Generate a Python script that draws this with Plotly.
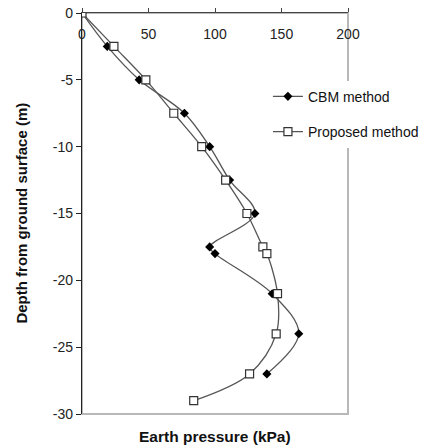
import plotly.graph_objects as go

cbm_depth = [0, -2.5, -5, -7.5, -10, -12.5, -15, -17.5, -18, -21, -24, -27]
cbm_pressure = [0, 19, 43, 77, 96, 111, 130, 96, 100, 143, 163, 139]

prop_depth = [0, -2.5, -5, -7.5, -10, -12.5, -15, -17.5, -18, -21, -24, -27, -29]
prop_pressure = [0, 24, 48, 69, 90, 108, 124, 136, 139, 147, 146, 126, 84]

x_ticks = [0, 50, 100, 150, 200]
y_ticks = [0, -5, -10, -15, -20, -25, -30]
y_tick_labels = ["0", "-5", "-10", "-15", "-20", "-25", "-30"]

FONT = "Liberation Sans, Arial, sans-serif"

fig = go.Figure()
fig.add_trace(go.Scatter(
    x=cbm_pressure, y=cbm_depth, name="CBM method", legendgroup="a",
    mode="lines+markers", line=dict(color="#555555", width=1.3, shape="spline", smoothing=1),
    marker=dict(symbol="diamond", size=7, color="black", line=dict(width=0)),
))
fig.add_trace(go.Scatter(
    x=prop_pressure, y=prop_depth, name="Proposed method", legendgroup="b",
    mode="lines+markers", line=dict(color="#555555", width=1.3, shape="spline", smoothing=1),
    marker=dict(symbol="square", size=8, color="white", line=dict(width=1.2, color="#333333")),
))

# plot-area frame (right and bottom, light gray)
fig.add_shape(type="rect", xref="paper", yref="paper", x0=0, x1=1, y0=0, y1=1,
              line=dict(color="#b8b8b8", width=2), layer="below")

fig.update_layout(
    width=425, height=448,
    margin=dict(l=82, r=77, t=13, b=34, autoexpand=False),
    paper_bgcolor="white", plot_bgcolor="white",
    font=dict(family=FONT, color="#222222"),
    showlegend=True,
    legend=dict(x=0.699, y=0.831, xanchor="left", yanchor="top",
                bgcolor="white", font=dict(size=14, color="#111111"),
                itemwidth=30, tracegroupgap=14, traceorder="grouped"),
    xaxis=dict(range=[0, 200], tickvals=x_ticks, side="top",
               ticklabelposition="outside", ticklabelstandoff=-37,
               ticks="outside", ticklen=4,
               tickcolor="#444444", linecolor="#444444", linewidth=1.2,
               showgrid=False, zeroline=False, tickfont=dict(size=14)),
    yaxis=dict(range=[-30, 0], tickvals=y_ticks, ticktext=y_tick_labels,
               ticks="outside", ticklen=5,
               tickcolor="#222222", linecolor="#222222", linewidth=1.2,
               showgrid=False, zeroline=False, tickfont=dict(size=14)),
)

fig.add_annotation(text="<b>Earth pressure (kPa)</b>", xref="paper", yref="paper",
                   x=0.5, y=-0.057, xanchor="center", yanchor="middle",
                   showarrow=False, font=dict(size=15.5, color="#111111"))
fig.add_annotation(text="<b>Depth from ground surface (m)</b>", xref="paper", yref="paper",
                   x=-0.229, y=0.5, xanchor="center", yanchor="middle", textangle=-90,
                   showarrow=False, font=dict(size=15, color="#111111"))

fig.write_html("out.html", config={"displayModeBar": False},
               post_script="document.body.style.margin='0';")
